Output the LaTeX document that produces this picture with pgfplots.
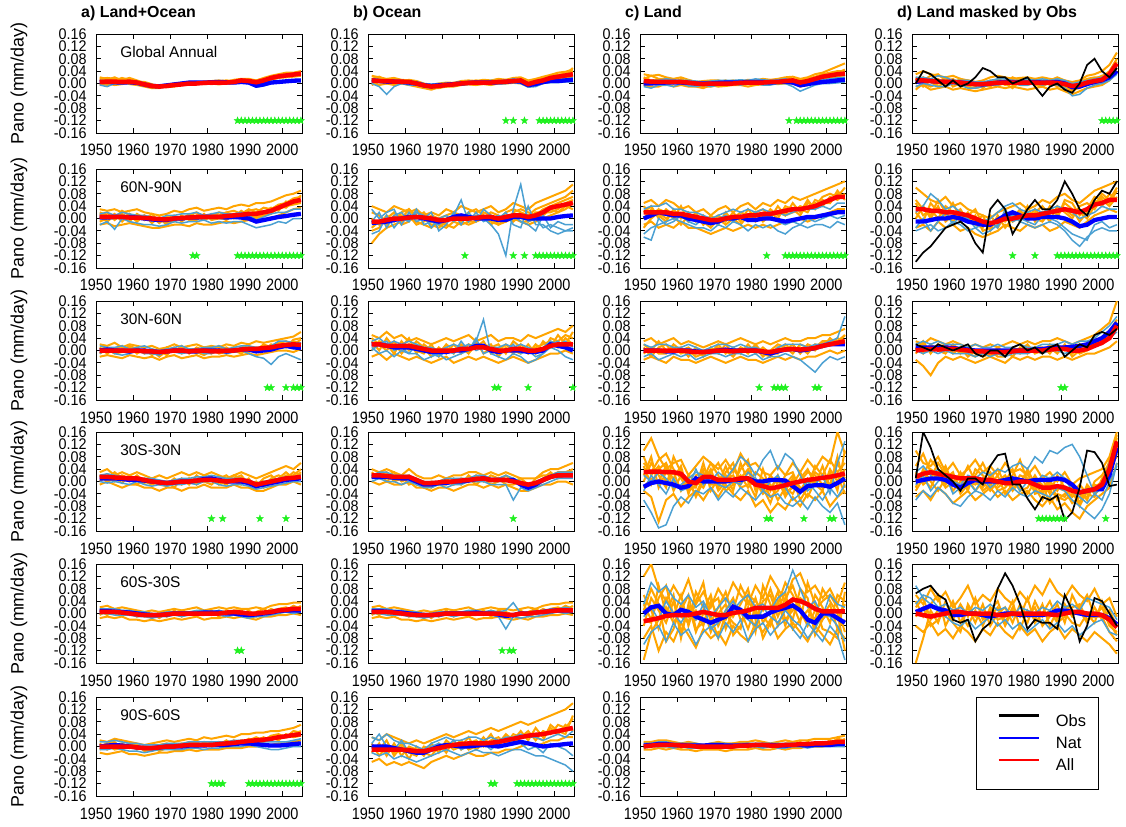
\documentclass[border=0pt]{standalone}
\usepackage{fontspec}
\setmainfont{Liberation Sans}
\usepackage{pgfplots}
\usepackage{pgfplotstable}
\pgfplotsset{compat=1.18}
\definecolor{oran}{RGB}{255,165,0}
\definecolor{lblue}{RGB}{75,160,210}
\definecolor{sgreen}{RGB}{30,240,30}
\pgfdeclareplotmark{fstar}{%
  \pgfpathmoveto{\pgfpointpolar{90}{\pgfplotmarksize}}%
  \pgfpathlineto{\pgfpointpolar{126}{0.42\pgfplotmarksize}}%
  \pgfpathlineto{\pgfpointpolar{162}{\pgfplotmarksize}}%
  \pgfpathlineto{\pgfpointpolar{198}{0.42\pgfplotmarksize}}%
  \pgfpathlineto{\pgfpointpolar{234}{\pgfplotmarksize}}%
  \pgfpathlineto{\pgfpointpolar{270}{0.42\pgfplotmarksize}}%
  \pgfpathlineto{\pgfpointpolar{306}{\pgfplotmarksize}}%
  \pgfpathlineto{\pgfpointpolar{342}{0.42\pgfplotmarksize}}%
  \pgfpathlineto{\pgfpointpolar{18}{\pgfplotmarksize}}%
  \pgfpathlineto{\pgfpointpolar{54}{0.42\pgfplotmarksize}}%
  \pgfpathclose\pgfusepathqfillstroke}
\pgfplotsset{
  pan/.style={
    scale only axis, width=206bp, height=99bp, anchor=north west,
    xmin=1950, xmax=2005.3, ymin=-0.16, ymax=0.16,
    xtick={1950,1960,1970,1980,1990,2000},
    ytick={-0.16,-0.12,-0.08,-0.04,0,0.04,0.08,0.12,0.16},
    xticklabel pos=lower, yticklabel pos=left,
    xtick pos=both, ytick pos=both,
    tick align=inside, major tick length=5bp,
    axis line style={line width=0.9bp},
    every tick/.style={black, line width=0.9bp},
    /pgf/number format/assume math mode=true,
    xticklabel style={font=\fontsize{16.5}{16.5}\selectfont, xscale=0.88, /pgf/number format/1000 sep={}, yshift=-8bp},
    yticklabel style={font=\fontsize{15.5}{15.5}\selectfont, xscale=0.93, /pgf/number format/fixed, /pgf/number format/fixed zerofill, /pgf/number format/precision=2, xshift=-6.5bp},
    title style={at={(axis description cs:0,1)}, anchor=base west, xshift=-15bp, yshift=11bp, font=\fontsize{16}{16}\selectfont\bfseries, inner sep=0pt},
    ylabel style={at={(axis description cs:-0.374,0.5)}, anchor=center, font=\fontsize{18}{18}\selectfont},
  },
  st/.style={only marks, mark=fstar, mark size=3.8bp, color=sgreen, mark options={line width=0.3bp}},
}
\tikzset{reg/.style={anchor=west, font=\fontsize{15.5}{15.5}\selectfont, inner sep=0pt}}
\newcommand\drawens[3]{%
  \pgfplotsinvokeforeach{#2}{\addplot[oran, line width=2bp] table[x=yr, y expr=\thisrow{##1}/100]{#1};}%
  \pgfplotsinvokeforeach{#3}{\addplot[lblue, line width=1.5bp] table[x=yr, y expr=\thisrow{##1}/100]{#1};}%
  \addplot[blue, line width=4.3bp] table[x=yr, y expr=\thisrow{B}/100]{#1};
  \addplot[red, line width=4.5bp] table[x=yr, y expr=\thisrow{R}/100]{#1};
}
\newcommand\obs[1]{\addplot[black, line width=1.7bp] table[x=yr, y expr=\thisrow{K}/100]{#1};}

% ---------- data (hundredths of mm/day), one row per series ----------
\pgfplotstableread{
s 1951 1953 1955 1957 1959 1961 1963 1965 1967 1969 1971 1973 1975 1977 1979 1981 1983 1985 1987 1989 1991 1993 1995 1997 1999 2001 2003 2005
R 0.5 0.6 0.6 0.5 0.6 0.3 -0.3 -0.8 -1 -0.8 -0.5 -0.3 0 0 0.2 0.3 0.3 0.3 0.5 1 0.8 0.4 1 1.8 2.3 2.6 2.9 3.2
B 0.5 0.5 0.4 0.3 0.4 0.2 -0.3 -0.8 -0.9 -0.6 -0.3 0 0.3 0.3 0.3 0.4 0.5 0.4 0.3 0.5 0.3 -0.7 -0.3 0.3 0.5 0.7 0.9 1
o1 1.5 1.8 1.5 1.2 1.8 1 0.2 -0.5 -0.5 -1 -0.8 0 0.5 0.3 0.5 0.8 1 0.5 1.2 1.5 1.5 1 1.8 2.5 3 3.5 3.5 4
o2 0 -0.5 0.2 0.5 -0.2 -0.5 -1 -1.5 -1.5 -0.5 0 -0.5 -0.3 0.2 0 -0.2 0 0.5 0.2 0.5 0.2 -0.3 0.5 1.2 1.8 2 2.2 2.5
o3 2 1.5 1 1.8 1.2 0.5 0.5 -0.2 -1.2 -1 -0.2 0.2 0.3 -0.3 0.5 0.5 0.8 1 0.8 1.2 1 1 1.5 2.2 2.8 2.5 3.2 3.8
o4 -0.5 0 -0.5 -0.2 0.3 0 -0.8 -1.2 -0.8 -1.2 -1 -0.5 -0.2 0 -0.2 0 -0.3 0 0.3 0.8 0.5 0 0.8 1.5 2 2.3 2.5 3
o5 1 1.2 2 1 0.8 0.8 0 -1 -1.3 -0.5 -0.3 0 0.5 0.5 0.3 0.5 0.5 0.2 0.8 1.2 0.8 0.5 1.2 2 2.5 3.2 3 3.5
b1 -0.5 -1 0 0 0.2 -0.3 -0.8 -1.2 -1 -0.8 -0.5 -0.2 0 0.3 0 0 0.2 0 0 0.2 0 -1.2 -0.8 0 0.2 0.5 0.5 0.8
b2 1 0.8 0.5 0.5 0.8 0.5 0 -0.5 -0.5 -0.3 0 0.3 0.5 0.6 0.5 0.8 0.8 0.8 0.6 0.8 0.6 -0.3 0 0.6 0.8 1 1.2 1.3
}\raw
\pgfplotstabletranspose[colnames from=s, input colnames to=yr]{\tAa}{\raw}
\pgfplotstableread{
s 1951 1953 1955 1957 1959 1961 1963 1965 1967 1969 1971 1973 1975 1977 1979 1981 1983 1985 1987 1989 1991 1993 1995 1997 1999 2001 2003 2005
R 1 0.8 0.8 0.6 0.6 0.5 0 -0.6 -1 -0.8 -0.5 -0.3 0 0.2 0.3 0.3 0.3 0.5 0.6 0.8 1 -0.2 0.5 1 1.8 2.2 2.6 3
B 1 0.8 0.6 0.6 0.5 0.3 0 -0.6 -0.8 -0.6 -0.4 -0.2 0 0.2 0.3 0.3 0.3 0.4 0.5 0.8 0.6 -0.5 -0.2 0.5 0.8 0.8 1 1.2
o1 2.5 2 1.5 1.8 1.2 1 0.5 -0.2 -0.5 0 0.3 0.2 0.8 1 0.8 1.2 1 1.5 1.2 1.8 2 1 1.5 2.2 2.8 3.5 3.8 4.5
o2 0 -0.5 0 -0.5 0 -0.5 -1 -1.5 -2 -1.2 -1 -1 -0.5 -0.3 -0.5 -0.2 -0.5 0 0 0.2 0 -1 -0.5 0 1 1.2 1.8 2
o3 1.5 2.2 1 1 0.5 1.2 0.8 0 -1.2 -0.5 0 -0.5 0.5 0.5 1 0.5 0.8 1 1.2 1 1.5 0.5 1.2 1.8 2.5 2.8 3.2 3.8
o4 -0.5 0.5 0.8 0 0 -0.2 -0.5 -1 -1.5 -1.5 -1 0 -0.3 0 0 0.5 0 0 0.5 0.5 0.8 -0.5 0 0.8 1.5 1.8 2.2 2.5
o5 1 1.5 0 1.2 1 0.8 0.2 -0.8 -0.8 -1 0 0.2 0.3 0.8 0.5 0 0.5 0.8 0.8 1.2 1.2 0.2 0.8 1.5 2 2.5 3 5
b1 0 -1 -3.5 -1 0 -0.5 -0.5 -1 -1.5 -1 -0.8 -0.5 -0.5 0 0 0 -0.3 0 0 0.3 0 -1.2 -1 0 0.3 0.3 0.5 0.5
b2 1.5 1.2 1 1 0.5 0.8 0.5 0 -0.2 0 0 0.2 0.5 0.5 0.8 0.5 1 0.8 1 1.5 1.2 0 0.5 1 1.2 1.2 1.5 1.8
}\raw
\pgfplotstabletranspose[colnames from=s, input colnames to=yr]{\tBa}{\raw}
\pgfplotstableread{
s 1951 1953 1955 1957 1959 1961 1963 1965 1967 1969 1971 1973 1975 1977 1979 1981 1983 1985 1987 1989 1991 1993 1995 1997 1999 2001 2003 2005
R 0.8 0.6 0.5 0.5 0.5 0.5 0.3 0 -0.2 0 0 0 0 0.2 0.3 0.3 0.3 0.5 0.5 0.8 1 0.3 0.8 1.5 2.2 2.6 3 3.2
B 0 0 0.2 0.3 0.3 0.3 0.2 0 0 0 0.2 0.3 0.3 0.3 0.5 0.5 0.5 0.3 0.5 0.6 0.3 -0.6 -0.2 0.2 0.5 0.7 1 1.2
o1 3 2.5 2.8 2 1.5 2 1.2 0.5 0.8 1 1 0.5 1 0.5 1.2 1 1.5 1.2 1.5 2 2.2 1.5 2 3 3.5 4.5 5.5 6.5
o2 -0.5 -1 -1 0 -1 -0.5 -1 -1 -1.5 -0.5 -1 -0.8 -0.5 -0.5 -1 -0.5 -0.3 0 -0.2 0 0 -1 -0.5 0.5 1 1.2 1.5 2
o3 1.5 2.5 1.5 1.5 1 0.5 1 0.3 -0.5 0.5 0.5 1 0 1 0.5 1 1 0.8 1 1.5 1.5 1 1.5 2.2 3 3.5 4 4
o4 0 0 -0.5 -0.5 0.5 0 -0.5 -0.8 -1 -1 -0.5 0 -0.5 0 -0.2 0 -0.2 0.2 0.5 0.2 0.5 -0.5 0.2 1 1.5 1.8 2.2 2.8
o5 2 1 1.2 1 0 1.5 0 -0.5 0 0 0.5 -0.5 0.5 0.8 0.5 0.2 0.8 0.5 0 1 1 0.2 1 2 2.5 3 3.5 4.5
b1 -1 -1.5 -0.5 -0.5 -1 0 -0.8 -1 -0.5 -1 -0.5 -0.5 0 -0.5 0 0 -0.5 -0.5 0 0 -1 -2.5 -1.5 -0.5 0 0 0.2 0.5
b2 1 1 1 1.5 1.2 1 1 0.8 0.5 0.8 1 1 1 1.2 1 1.5 1.2 1 1.2 1.5 1 0 0.5 1 1.2 1.5 1.8 2
}\raw
\pgfplotstabletranspose[colnames from=s, input colnames to=yr]{\tCa}{\raw}
\pgfplotstableread{
s 1951 1953 1955 1957 1959 1961 1963 1965 1967 1969 1971 1973 1975 1977 1979 1981 1983 1985 1987 1989 1991 1993 1995 1997 1999 2001 2003 2005
R 1 1 0.8 0.6 0.5 0.5 0.3 0 -0.2 -0.2 0 0.2 0.3 0.3 0.3 0.3 0.3 0.2 0.3 0.2 -0.2 -0.8 -0.5 0.3 0.8 1.2 3 6.5
B 0.5 0.8 0.8 0.6 0.5 0.5 0.3 0 -0.2 -0.3 0 0.3 0.5 0.5 0.3 0.3 0.5 0.3 0.3 0.5 0 -1.2 -1 -0.2 0.5 1 2 4
K 0 4 3 1 -1 1 -1 0 2 5 4 2 2 0 1 2 -1 -4 -1 0 -2 -3 0 6 8 4 2 5
o1 3 4 3 2.5 2 2.5 1.5 1 0.5 1 2 2.5 2 1.5 1.8 2 1.5 2 1.5 1.2 1 0.5 1 2.5 3 4 6 10
o2 -1 -0.5 -2 -1.5 -1 -2 -1.5 -2 -2.5 -2 -1.5 -1 -1.5 -1 -1.5 -2 -1.5 -1 -2 -1.5 -2.5 -3.5 -2.5 -1.5 -1 -0.5 1 4
o3 2 1 2.5 3 1 0 1.5 0.5 -1 0.5 0 1.5 0.5 2 1 0.5 1.5 0.5 1 2 1 -1 0.5 1.5 2 2 4 8
o4 0 2 0.5 -1 0.5 1.5 -0.5 -1 -1.5 -1 1 0 1 -0.5 0 1 -0.5 -1 0.5 -1 -1 -2 -1.5 0 0 0.5 2 6
o5 1.5 -1 1 1.5 -0.5 0.5 1 1 0.5 -0.5 -1 1 -0.5 0.5 -0.5 -0.5 0.5 1 -0.5 0.5 0.5 -1.5 0 1 1.5 2.5 3.5 7
o6 -2 0 -1 0 2 -1 0 -0.5 0 -1.5 0.5 -0.5 0 -1.5 1 0 0 -0.5 0 -0.5 -1.5 -2.5 -1 0 0.5 1 2.5 5
b1 -1 0 -0.5 -1 -1 0 -0.5 -1.5 -1.5 -1 -0.5 -0.5 0 0 -0.5 -0.5 0 -0.5 0 -0.5 -1.5 -4 -3.5 -1.5 -0.5 0 1 3
b2 2 2 1.5 2.5 2 1 1 1 0.5 0.5 1 1.5 1.5 1 1 1.5 1 1.5 1 1.5 1 0 0.5 1 1.5 2 3 5
}\raw
\pgfplotstabletranspose[colnames from=s, input colnames to=yr]{\tDa}{\raw}
\pgfplotstableread{
s 1951 1953 1955 1957 1959 1961 1963 1965 1967 1969 1971 1973 1975 1977 1979 1981 1983 1985 1987 1989 1991 1993 1995 1997 1999 2001 2003 2005
R 0.5 0.5 0.5 0.5 0.3 0.3 0.2 0 -0.2 -0.3 0 0.2 0.3 0.5 0.5 0.5 0.5 0.8 1 1.2 1.5 1.5 2 2.5 3.5 4.5 5.5 6
B 0.3 0.3 0.5 0.5 0.5 0.3 0 -0.3 -0.5 -0.5 0 0 0.3 0.3 0.5 0.5 0.5 0.3 0.5 0.3 0 -1 -0.5 0 0.5 0.8 1.2 1.5
o1 3 2.5 3 2 2.5 3 2 1.5 1 1.5 2.5 2 3 3.5 2.5 3 3.5 3 4 4.5 4 5 5 5.5 6.5 7.5 8 9
o2 -2 -1.5 -2.5 -2 -1.5 -2 -2.5 -3 -3 -2.5 -2 -2 -2.5 -1.5 -2 -2 -1.5 -1 -1.5 -1 -0.5 -1 -0.5 0 1 2 3 3.5
o3 1 2 -0.5 1.5 0 1 -0.5 1.5 -1 0 1 -1 1 2 0 1.5 1 2 2.5 1.5 3 2 3.5 3 4.5 5 6.5 7
o4 -1 0 1.5 -1 1.5 -0.5 1 -1.5 0.5 -1.5 -1 1 -0.5 -0.5 1.5 -0.5 0 0 0.5 2.5 1 0.5 1.5 2 3 4 4.5 5
o5 0.5 -1 1 0.5 -1 1.5 0 0.5 -1.5 0.5 0 -0.5 1.5 0.5 -0.5 0.5 2 1.5 0 1 2.5 3 2 3.5 2.5 5.5 5 7.5
o6 2 1 0 2.5 1 -1 1 -0.5 0 -2 -0.5 0.5 0 1 1 1 0.5 -0.5 1.5 0.5 1 0 1 1.5 4 3.5 5.5 6
b1 -2 -1 -3.5 0 -1 -1.5 -2 -2 -2.5 -2 -1 -1.5 -1 -1 -0.5 -1.5 -1 -1.5 -1 -1 -2 -3 -2.5 -2 -1 -1.5 0 0
b2 1.5 2 1 2 1.5 1 1 0.5 0 1 1 1.5 1.5 2 1 1.5 2 1.5 1.5 2 1 -0.5 0.5 1.5 2 2 3 3
}\raw
\pgfplotstabletranspose[colnames from=s, input colnames to=yr]{\tAb}{\raw}
\pgfplotstableread{
s 1951 1953 1955 1957 1959 1961 1963 1965 1967 1969 1971 1973 1975 1977 1979 1981 1983 1985 1987 1989 1991 1993 1995 1997 1999 2001 2003 2005
R -1 -1 -0.5 0 0 0.3 0.5 0.3 0 -0.5 -0.5 0 0 0 0.2 0.5 0.5 0 0.5 1 1 0.5 1 2 3.5 4 4.5 5
B -1.5 -1.2 -1 -0.5 0 0.5 0.5 0 -0.5 -1 -0.5 0.5 1 0.5 0 0 0 -0.5 -0.5 0.5 0.5 0 0 0 0 0.5 0.8 1
o1 -8 -5 -3 -2 -1 0 -1 -2 -3 -1 -2 -3 -1 -2 -1 0 -1 -2 -1 0 -1 -2 -1 0 1 2 3 5
o2 4 3 2 4 3 2 3 1 2 1 3 2 4 3 2 3 4 2 3 5 4 3 5 6 7 8 9 11
o3 0 -2 1 -1 2 3 1 0 -2 -3 -1 1 0 2 3 1 0 -1 2 3 2 1 3 4 5 6 7 9
o4 -3 -1 -2 1 -2 -1 2 1 -1 -2 -3 -1 -2 -1 -1 2 1 -2 0 1 -1 -1 0 1 3 2 4 3
o5 2 1 -1 0 1 1 -2 -1 1 0 1 2 1 -1 1 0 2 1 -1 2 3 2 1 3 4 5 6 7
o6 -4 -3 0 2 0 3 0 2 -1 -2 0 0 1 1 0 1 -2 0 1 -1 1 -1 2 2 2 3 5 6
b1 -5 -4 1 -3 0 -1 3 -2 -1 -2 0 1 6 -1 1 0 -2 -5 -12 3 11 -1 0 -3 -2 -3 -4 -3
b2 3 0 2 3 -2 2 -1 0 2 -4 -2 2 -2 2 -1 3 1 0 2 -2 -3 4 -2 -2 -4 -5 -4 -4
b3 -1 2 -3 1 2 -1 2 1 -3 0 1 -1 1 -1 2 -1 0 1 0 1 -1 -2 -4 1 -3 -1 -2 -2
}\raw
\pgfplotstabletranspose[colnames from=s, input colnames to=yr]{\tBb}{\raw}
\pgfplotstableread{
s 1951 1953 1955 1957 1959 1961 1963 1965 1967 1969 1971 1973 1975 1977 1979 1981 1983 1985 1987 1989 1991 1993 1995 1997 1999 2001 2003 2005
R 2 2 2 2 1.5 1.5 1 0.5 0 -0.5 -0.5 0 0.5 0.5 1 1 1.5 1.5 2 2.5 3 3 3.5 4 5 6 7 7
B 0 1 2 1.5 1 1 0 -0.5 -1 -1.5 -1 0 0 0.5 -0.5 -0.5 0 0 -0.5 -1 -0.5 0 0.5 0.5 1 1.5 2 2
o1 5 6 4 6 5 3 4 2 3 1 3 4 2 4 5 3 5 4 6 5 7 6 7 8 9 10 11 12
o2 -2 -1 -3 -2 -3 -1 -3 -3 -4 -5 -4 -3 -4 -3 -2 -3 -2 -3 -2 -1 -1 0 -1 0 1 2 3 3
o3 0 3 1 -1 3 0 2 -1 1 -2 1 -1 2 -1 3 0 0 3 1 3 2 4 3 5 4 7 6 8
o4 4 1 3 2 0 4 -1 2 -2 0 -2 2 -1 1 0 2 3 0 4 1 5 2 6 3 6 5 9 6
o5 2 4 0 3 1 -2 1 0 -1 -3 0 -2 0 2 1 -1 1 2 0 4 3 1 5 4 7 8 7 10
o6 -3 0 2 0 2 1 -1 1 -2 1 -1 1 0 -2 1 2 -1 1 2 1 2 3 2 6 5 5 8 7
b1 -5 -3 -2 -1 0 -1 -2 -3 -3 -4 -2 -3 -1 -2 -4 -2 -3 -2 -4 -5 -3 -2 -3 -2 -2 -3 -1 -2
b2 3 4 4 5 3 3 2 2 1 0 1 2 3 2 3 2 3 2 2 1 2 3 3 3 4 3 5 5
b3 -6 -7 0 -2 -1 1 -1 -2 0 -2 0 1 -1 1 -1 1 0 1 -1 -2 -1 -2 0 -1 0 1 0 1
}\raw
\pgfplotstabletranspose[colnames from=s, input colnames to=yr]{\tCb}{\raw}
\pgfplotstableread{
s 1951 1953 1955 1957 1959 1961 1963 1965 1967 1969 1971 1973 1975 1977 1979 1981 1983 1985 1987 1989 1991 1993 1995 1997 1999 2001 2003 2005
R 3 3 2.5 2.5 2 2 1.5 1 0 -1 -1.5 -1 0 0 0.5 1 1 1.5 2 2.5 3 2.5 2 3 4.5 5 6 6
B -1 -1 -0.5 0 0 0.5 0 -1 -1.5 -2 -2 -0.5 1 2 1 0 0 0.5 0.5 0.5 0 -1 -2.5 -2 -0.5 0 0.5 0.5
K -14 -11 -9 -6 -3 -2 -1 -3 -8 -11 3 6 3 -5 -1 3 6 3 3 6 12 8 3 1 6 9 8 12
o1 10 8 6 5 7 4 5 3 2 1 0 2 3 4 5 3 4 6 5 7 8 6 5 7 9 10 11 12
o2 -3 -2 -4 -1 -3 -2 -4 -3 -5 -6 -5 -4 -2 -3 -4 -2 -3 -2 -4 -3 -1 -2 -3 -1 1 2 3 2
o3 5 1 3 0 4 2 -1 2 -2 -3 1 -2 2 -1 2 0 3 0 4 1 5 3 -1 2 6 4 8 6
o4 0 4 0 4 -1 1 3 -1 1 -4 -3 0 -1 2 -1 4 -1 2 -1 4 2 0 4 5 3 7 5 9
o5 2 -1 5 2 1 5 0 0 -1 1 -4 1 -3 0 3 -1 2 4 1 0 6 5 1 3 7 6 4 7
o6 6 3 1 6 2 -1 2 1 3 -2 -1 -3 1 -1 1 2 0 -1 2 2 3 1 2 0 4 8 6 10
b1 -4 -3 -2 -4 -3 -1 -2 -4 -3 -5 -4 -2 0 1 -1 -2 -3 -2 -1 -2 -4 -7 -9 -6 -4 -3 -4 -4
b2 2 4 8 6 3 4 2 1 0 -1 0 2 4 5 3 2 3 2 3 4 3 2 0 1 2 4 3 3
b3 -3 0 -4 -1 2 -2 1 0 -3 -2 -1 -3 3 -1 0 -1 -2 1 0 -1 -3 -5 -6 -7 -2 -1 -3 -2
}\raw
\pgfplotstabletranspose[colnames from=s, input colnames to=yr]{\tDb}{\raw}
\pgfplotstableread{
s 1951 1953 1955 1957 1959 1961 1963 1965 1967 1969 1971 1973 1975 1977 1979 1981 1983 1985 1987 1989 1991 1993 1995 1997 1999 2001 2003 2005
R 0 0 0 0 0 0 -0.3 -0.3 -0.5 -0.3 0 0 -0.3 0 0 -0.3 -0.3 0 0 0.3 0.5 0.5 0.8 1 1.5 1.8 2 1.8
B 0 0.3 0 0 -0.3 0 0 -0.3 -0.5 -0.3 0 0 -0.3 -0.3 0 0 0 -0.3 0 0.3 0.3 -0.3 0 0.3 1 1.5 1 0.8
o1 2 1.5 2.5 1 2 1.5 1 1.5 0.5 1 2 1 1.5 2 1 1.5 1 2 1.5 2.5 2 3 2.5 3 3.5 4 4.5 6
o2 -2 -1.5 -2 -2.5 -1.5 -2 -2.5 -2 -3 -2 -1.5 -2.5 -2 -1.5 -2.5 -2 -2 -1.5 -2 -1.5 -1 -1.5 -1 -0.5 0 0 -0.5 0.5
o3 1 -1 0.5 1.5 -0.5 1 -1 0.5 -1 1 -0.5 1.5 -1 1 0 -1 0.5 1 -0.5 1 1.5 0 2 1 2.5 3 2 3.5
o4 -1 0.5 -1 -0.5 1 -1 0.5 -1.5 0 -1.5 1 -0.5 0.5 -1 1 0.5 -1 -0.5 1 0 -0.5 1 0 2 1 2 3 2
o5 0.5 1 -0.5 0 1.5 0.5 -0.5 0 -2 0 0.5 -1 0 -0.5 -1.5 0 1.5 0.5 0 -1 1 0.5 1.5 0 3 1 3.5 4
b1 -1 0.5 -1 -1.5 -1 0 -1 -1 -1.5 0 -0.5 -1 -0.5 0 -1 -1 0 -1 -0.5 0 -1 -2 -2.5 -4.5 -2 -1 -2 -3
b2 1.5 1 1 1.5 0.5 1 1.5 0.5 0 0.5 1 1.5 0.5 0.5 1 1 1.5 0.5 1 1.5 1.5 1 1 1.5 3 3 2.5 2.5
}\raw
\pgfplotstabletranspose[colnames from=s, input colnames to=yr]{\tAc}{\raw}
\pgfplotstableread{
s 1951 1953 1955 1957 1959 1961 1963 1965 1967 1969 1971 1973 1975 1977 1979 1981 1983 1985 1987 1989 1991 1993 1995 1997 1999 2001 2003 2005
R 2 2 1.5 1.5 1.5 1.5 1 0.5 0 0 0 0 0.5 0.5 1 1 0.5 0 0 0.5 0.5 0 0 0.5 1.5 2 2 2
B 2 2 1.5 1 1 1 0.5 0 -0.5 -0.5 -0.5 0 0 0.5 1.5 1.5 0 -0.5 0 0 0 -0.5 -0.5 0 2 1.5 1 0
o1 5 4 6 4 5 3 4 3 2 3 4 3 4 5 3 4 5 3 4 4 3 5 4 5 6 7 6 8
o2 -2 -1 -3 -1 -2 -3 -2 -3 -4 -3 -2 -4 -3 -2 -3 -2 -3 -4 -3 -2 -3 -4 -3 -2 -1 -1 0 -1
o3 4 2 0 3 -1 2 0 -1 2 -2 1 -1 2 0 3 -1 1 2 -1 3 1 -1 2 0 4 3 5 4
o4 0 3 2 -1 3 0 3 1 -2 1 -1 2 -1 2 1 3 -1 0 2 0 -1 2 -1 3 1 5 2 6
o5 3 0 4 1 1 4 -1 2 0 -1 2 0 1 -1 2 1 2 -2 1 -1 2 0 1 2 3 1 4 2
b1 1 -1 0 -2 0 -1 -1 -3 -2 -1 -3 -2 -1 0 3 10 -1 -2 -3 -1 -2 -4 -3 -1 1 0 -2 -3
b2 3 4 2 3 2 3 2 1 1 0 1 2 1 2 0 1 1 1 2 1 2 1 0 1 3 2 3 1
b3 0 2 3 0 1 -1 2 0 -1 -2 0 -1 3 0 4 -1 0 -1 0 2 -1 0 -2 -1 2 3 1 0
}\raw
\pgfplotstabletranspose[colnames from=s, input colnames to=yr]{\tBc}{\raw}
\pgfplotstableread{
s 1951 1953 1955 1957 1959 1961 1963 1965 1967 1969 1971 1973 1975 1977 1979 1981 1983 1985 1987 1989 1991 1993 1995 1997 1999 2001 2003 2005
R 0 0 0 0 0 0 -0.3 -0.5 -0.5 -0.3 0 0 -0.3 0 0 0 -0.3 -0.5 0 0.3 0.5 0.3 0.5 0.8 1.5 2 2.5 3
B 0 0 0 -0.3 -0.3 0 0 -0.3 -0.5 -0.3 0 0.3 0 0 0 0 -0.5 -1 -0.3 0.3 0.5 0 0.3 0.8 1.5 2 2 2
o1 3 4 2 3 4 2 3 2 1 2 3 2 3 4 3 2 3 2 3 4 3 3 4 4 5 5 6 7
o2 -3 -2 -3 -4 -2 -3 -3 -4 -3 -2 -3 -4 -3 -2 -3 -3 -4 -3 -2 -3 -2 -3 -2 -2 -1 0 -1 0
o3 1 -2 1 2 -1 1 -2 1 -2 1 -1 2 -1 1 -1 2 -1 -2 1 0 2 -1 2 1 3 2 4 3
o4 -1 1 -1 -1 2 0 1 -1 0 -1 2 -1 1 -1 2 -1 1 -1 -1 2 0 1 -1 2 1 4 2 5
o5 2 0 3 0 1 -1 0 -2 -1 0 1 0 -2 1 0 1 -2 0 2 1 -1 2 1 0 3 3 3 5
b1 -2 -1 -3 -2 -1 -2 -1 -3 -2 -1 -1 -2 -1 -1 -2 -1 -3 -2 -2 -1 -2 -3 -5 -7 -4 -2 -3 -2
b2 2 1 2 2 1 1 2 1 0 1 2 2 1 2 1 1 0 -1 1 2 2 2 1 2 2 3 4 11
}\raw
\pgfplotstabletranspose[colnames from=s, input colnames to=yr]{\tCc}{\raw}
\pgfplotstableread{
s 1951 1953 1955 1957 1959 1961 1963 1965 1967 1969 1971 1973 1975 1977 1979 1981 1983 1985 1987 1989 1991 1993 1995 1997 1999 2001 2003 2005
R 0 0.3 0.5 0.3 0.5 0.5 0.3 0 -0.3 -0.3 -0.5 -0.5 -0.5 -0.3 0 0 0 0 0.3 0.5 0.5 0 0 0.5 1.5 2.5 4 8
B 1 1 1 1 1 0.8 0.5 0.3 0 0 0 0 0 0 0 0 0.3 0.5 0.8 1 1 1.2 1.5 2 3 4 6 9
K 2 1 0 2 1 0 1 2 -1 -2 0 0 -2 1 2 0 1 -1 1 2 -2 0 2 1 5 6 5 7
o1 3 2 4 3 2 3 2 1 2 1 2 1 2 3 2 3 2 3 3 4 3 2 3 4 5 7 9 16
o2 -3 -5 -8 -4 -2 -3 -2 -3 -4 -3 -2 -3 -4 -2 -3 -2 -3 -2 -2 -3 -2 -3 -2 -1 -1 0 1 3
o3 1 -1 2 0 -1 2 0 -1 -2 0 -2 1 -1 0 -1 1 0 -1 2 0 1 -1 1 2 4 3 6 10
o4 -1 2 0 1 2 -1 1 -2 0 -2 -1 -1 0 -2 1 -1 1 1 -1 2 0 1 -1 0 2 4 5 7
o5 0 3 -1 2 0 1 -1 1 -1 -1 0 -2 -2 1 0 2 -1 0 1 -1 2 -2 0 1 3 2 4 9
b1 0 -1 0 -1 0 -1 -1 -1 -2 -1 -2 -1 -2 -1 -1 -1 0 -1 0 0 -1 0 0 1 2 2 4 6
b2 2 3 2 3 2 2 2 1 2 1 1 2 1 1 2 1 1 2 2 2 3 2 3 3 4 6 8 11
}\raw
\pgfplotstabletranspose[colnames from=s, input colnames to=yr]{\tDc}{\raw}
\pgfplotstableread{
s 1951 1953 1955 1957 1959 1961 1963 1965 1967 1969 1971 1973 1975 1977 1979 1981 1983 1985 1987 1989 1991 1993 1995 1997 1999 2001 2003 2005
R 1.5 1.5 1.3 1.2 1 1 0.5 0 -0.3 -0.5 -0.3 0 0 0.3 0.5 0.5 0.3 0 0.3 0.5 0 -1 -0.5 0 0.5 1 1.2 1.5
B 1 1 1 0.8 0.5 0.5 0.3 0 -0.3 -0.5 -0.3 0 0 0.3 0.8 1 0.5 0 0 0 -0.5 -1.5 -1 -0.5 0 0.5 0.8 1
o1 3 4 2 3 2 3 2 1 2 1 2 3 2 3 2 3 2 1 2 3 2 1 2 3 4 5 4 6
o2 -1 0 -1 -2 -1 -1 -2 -2 -3 -2 -2 -3 -2 -2 -1 -2 -2 -2 -1 -2 -2 -3 -3 -2 -1 -1 0 -1
o3 2 1 3 1 0 2 0 -1 0 -1 1 -1 1 0 2 1 0 -1 1 2 -1 0 -2 1 2 1 3 2
o4 0 2 0 2 1 -1 1 0 -1 0 -2 1 -1 2 0 -1 1 2 0 -1 1 -2 0 -1 1 3 1 3
o5 2 0 1 -0.5 2 0.5 -0.5 1 -1 -1.5 0 0 1 -1 1 1.5 -1 0 2 1 -1 -1.5 1 2 0 2 2 4
b1 0 -0.5 0 -0.5 -1 0 -1 -1.5 -1 -1.5 -1 -1 -0.5 -1 0 0 -1 -1.5 -1 -1 -1.5 -2.5 -2 -1.5 -1 -0.5 0 0
b2 2 2.5 2 1.5 1.5 1 1 1 0.5 0 0.5 1 1 1.5 1.5 2 1.5 1 1 1 0.5 -0.5 0 0.5 1 1.5 1.5 2
}\raw
\pgfplotstabletranspose[colnames from=s, input colnames to=yr]{\tAd}{\raw}
\pgfplotstableread{
s 1951 1953 1955 1957 1959 1961 1963 1965 1967 1969 1971 1973 1975 1977 1979 1981 1983 1985 1987 1989 1991 1993 1995 1997 1999 2001 2003 2005
R 2 2 1.8 1.5 1.5 1.5 0.5 -0.5 -0.5 -0.3 0 0 0.3 0.5 0.8 1 0.5 0.5 0.5 0 -0.5 -1 -0.5 0.5 1.5 2 2 2
B 1.5 1.5 1.5 1.2 1 1 0 -1 -1 -0.5 -0.5 0 0 0.3 0.8 1 0.5 0.5 0.5 0.5 -1 -2 -1 0.5 1.5 2 2 2
o1 4 3 4 3 2 4 2 1 1 2 1 2 2 3 3 2 3 2 3 2 1 1 1 3 4 4 5 6
o2 0 -1 0 -1 -1 0 -2 -2 -3 -2 -2 -3 -2 -1 -1 -2 -1 -2 -1 -2 -3 -3 -2 -1 -1 0 0 -1
o3 3 1 2 3 0 1 1 -1 -2 0 1 -1 1 0 2 0 2 1 0 1 -1 -2 1 2 2 3 3 4
o4 1 3 0 2 2 -1 0 -2 0 -1 -1 1 -1 2 0 2 0 1 -1 -1 0 -2 -1 1 3 1 2 2
o5 2 2 3 0 1 2 -1 0 -1 -1 0 -1 0 1 -1 1 -1 0 2 0 1 -1 0 0 1 2 3 3
b1 0 1 0 0 -1 0 -1 -2 -2 -1 -2 -1 -1 0 0 0 -1 -1 -1 -6 -2 -3 -2 -1 0 1 1 1
b2 2 3 3 2 2 2 1 0 0 0 1 1 1 1 2 2 1 1 2 1 0 -1 0 1 2 3 3 3
}\raw
\pgfplotstabletranspose[colnames from=s, input colnames to=yr]{\tBd}{\raw}
\pgfplotstableread{
s 1951 1953 1955 1957 1959 1961 1963 1965 1967 1969 1971 1973 1975 1977 1979 1981 1983 1985 1987 1989 1991 1993 1995 1997 1999 2001 2003 2005
R 3 3.2 3.2 3 3 2.5 0 -0.5 1.5 1.5 0.5 0.5 0.5 1 1 -1 -1.5 -2.2 -1.8 -1.2 -0.5 0 0.5 0.8 1.2 1.5 2 2.6
B -1.7 -0.5 0 -0.5 -1 -2 -1.5 1 0 0 0 0 0.5 0.5 1 0 0 0.5 0.5 0.3 -1.5 -3.3 -1.5 -1.2 -1.2 -1.7 -0.5 1
o1 10 14 8 4 6 7 2 5 8 6 4 7 3 9 5 6 3 2 5 2 6 3 7 4 8 6 16 9
o2 -3 -5 -13 -6 -4 -8 -5 -3 -6 -2 -5 -1 -4 -6 -3 -8 -6 -10 -7 -9 -5 -8 -4 -6 -3 -8 -5 -3
o3 6 3 7 9 4 1 -3 -1 4 2 -2 3 6 -1 3 0 -4 -2 1 -5 -1 3 -2 5 2 7 3 6
o4 0 6 2 -2 8 3 -1 -4 1 6 2 -3 -1 4 7 -3 0 -5 -3 2 3 -3 1 -1 5 -2 6 1
o5 5 -1 4 6 0 -2 2 0 -2 3 6 1 2 -2 -1 3 1 -1 -6 -2 -4 1 4 -1 -3 4 0 4
o6 2 8 -2 3 1 5 -4 2 3 -1 -1 5 -1 2 -2 1 -3 2 -1 -3 1 -6 -2 3 1 -1 8 -2
o7 8 2 5 0 3 -3 1 -5 0 4 -3 0 4 1 4 -2 -2 -7 0 -1 2 -2 -5 0 -2 3 -3 10
o8 -2 1 0 5 -3 2 -2 -2 6 -3 1 2 -3 6 0 -5 4 -3 2 -4 -2 0 3 2 -1 1 2 -4
b1 -6 -10 -15 -14 -8 -5 -7 -3 -4 -2 -6 -3 -5 -2 -4 -6 -3 -5 -4 -7 -8 -6 -9 -5 -8 -10 -7 -14
b2 2 0 3 1 -2 -1 1 3 2 0 3 1 4 8 6 2 7 10 4 9 7 2 -3 -1 2 -4 6 13
b3 -3 2 -1 -4 1 -3 -2 4 -1 2 -1 -2 0 -1 3 1 -3 0 2 -2 -6 -4 0 -3 -6 -2 -5 -1
}\raw
\pgfplotstabletranspose[colnames from=s, input colnames to=yr]{\tCd}{\raw}
\pgfplotstableread{
s 1951 1953 1955 1957 1959 1961 1963 1965 1967 1969 1971 1973 1975 1977 1979 1981 1983 1985 1987 1989 1991 1993 1995 1997 1999 2001 2003 2005
R 1.5 2.5 3 2.5 2 1.5 1 1 1 0.5 0.5 0 -0.5 -0.5 0 0 -1 -2 -2 -1.5 -2 -3 -3.5 -3 -2.5 -1 4 13
B 0 0.5 1 1 0.5 -1 -2 -0.5 0.5 0 0 0 0.5 1 0.5 0 0.5 0.5 0.5 1 0.5 -1 -3.5 -3 -2.5 -2.5 2 11
K 1 16 11 4 2 0 -3 1 1 -1 5 8.5 9 -1 -1 -5.5 -9 -5 -6 -4.5 -12.5 -10 -2 10 9.5 6 -1.5 -1
o1 10 6 5 8 3 6 2 4 7 3 5 2 6 3 4 2 5 1 3 0 3 -1 1 2 3 4 8 16
o2 -5 -3 -6 -2 -4 -7 -5 -3 -6 -4 -2 -5 -3 -6 -4 -3 -6 -8 -5 -9 -7 -10 -12 -8 -6 -4 -2 6
o3 5 9 3 1 5 -1 3 -2 2 6 1 4 -1 2 7 0 -3 1 -4 2 -2 -5 -3 -6 0 2 6 14
o4 0 2 7 4 -1 2 -2 1 -3 0 -3 0 2 -2 -1 4 -1 -4 0 -3 1 -2 -7 -1 -4 -2 3 10
o5 3 -1 1 6 2 -3 0 5 0 -2 2 -3 -2 1 -3 -2 2 -2 -3 -5 -6 -4 -1 -4 -5 1 4 12
o6 -2 4 0 -3 1 3 -4 -1 1 -3 -1 2 -4 -1 2 1 -2 -6 -1 -2 -3 -7 -5 -2 -3 -1 5 8
o7 2 0 4 2 -2 0 1 -3 4 2 -1 -2 0 4 -2 -4 0 -1 -7 -4 -5 -1 -4 -5 -1 -2 7 15
o8 -3 1 -2 3 4 0 2 0 -1 1 3 -1 1 -3 0 3 -4 -3 1 -6 -4 -3 -8 -3 -2 0 2 9
b1 -6 -3 -5 -2 -4 -7 -8 -5 -3 -4 -6 -3 -5 -2 -4 -5 -3 -4 -5 -2 -3 -6 -8 -10 -12 -9 -4 6
b2 3 5 2 4 1 0 -1 2 1 3 2 4 3 5 6 4 8 6 10 9 11 12 8 2 -4 -2 6 10
b3 -1 2 -3 0 2 -4 -2 0 -3 1 -2 0 -1 1 -3 0 -1 2 1 3 1 -3 -5 -7 -4 -6 0 5
}\raw
\pgfplotstabletranspose[colnames from=s, input colnames to=yr]{\tDd}{\raw}
\pgfplotstableread{
s 1951 1953 1955 1957 1959 1961 1963 1965 1967 1969 1971 1973 1975 1977 1979 1981 1983 1985 1987 1989 1991 1993 1995 1997 1999 2001 2003 2005
R 0.5 0.5 0.5 0.3 0 -0.3 -0.5 -0.5 -0.5 -0.3 0 0 0 0 0 0 0 0.3 0.5 0.3 0 0 0.3 0.5 1 1.2 1.5 1.5
B 0.8 0.8 0.6 0.5 0.3 0 -0.3 -0.5 -0.5 -0.3 0 0 0 0 0.3 0.3 0.3 0 0 -0.3 -0.5 -0.3 0 0.3 0.8 1 1 1
o1 2 2.5 1.5 2 1.5 1 0.5 1 0.5 1 1.5 1 1.5 2 1 1.5 2 1.5 2 1.5 1.5 2 1.5 2.5 3 3 3.5 3.5
o2 -1.5 -1 -1.5 -1 -2 -2 -2.5 -2 -2.5 -2 -1.5 -2 -1.5 -1 -2 -1.5 -1.5 -1 -1.5 -1 -1.5 -2 -1 -1 -0.5 -0.5 0 -0.5
o3 1 -0.5 1 0.5 -0.5 0.5 -1 0 -1.5 0.5 -0.5 1 -0.5 0.5 0.5 -0.5 1 0 1 1 -0.5 0.5 1.5 0 1.5 2 1 2.5
o4 -0.5 1 0 -0.5 1 -1 0 -1.5 0.5 -1 1 -1 0.5 -0.5 -0.5 1 -1 1 0 -0.5 1 -1 0 1.5 0.5 1 2.5 1.5
b1 0 0 -0.5 -0.5 -0.5 -1 -1 -1.5 -1 -1 -0.5 -1 -0.5 -0.5 0 -0.5 -0.5 -1 -0.5 -1 -1.5 -1 -1 -0.5 0 0.5 0 0.5
b2 1.5 1.5 1.5 1 1 0.5 0.5 0 0 0.5 0.5 0.5 0.5 1 1 0.5 1 0.5 0.5 0.5 0 0 0.5 1 1.5 1.5 2 1.5
}\raw
\pgfplotstabletranspose[colnames from=s, input colnames to=yr]{\tAe}{\raw}
\pgfplotstableread{
s 1951 1953 1955 1957 1959 1961 1963 1965 1967 1969 1971 1973 1975 1977 1979 1981 1983 1985 1987 1989 1991 1993 1995 1997 1999 2001 2003 2005
R 0.5 0.5 0.5 0.3 0 -0.3 -0.5 -0.5 -0.5 -0.3 0 0 0 0 0 0 0 0 -0.3 -0.5 0 0 0.3 0.5 0.8 1 1 1
B 0.8 0.8 0.6 0.5 0.3 0 -0.3 -0.5 -0.5 -0.3 0 0 0 0 0.3 0 0 -0.3 -0.8 -0.5 0 0 0.3 0.5 0.8 1 1 1
o1 2 2.5 1.5 2 1.5 1 0.5 1 0.5 1 1.5 1 1.5 2 1 1.5 2 1.5 1.5 1 1.5 2 1.5 2.5 3 3 3.5 3.5
o2 -1.5 -1 -1.5 -1 -2 -2 -2.5 -2 -2.5 -2 -1.5 -2 -1.5 -1 -2 -1.5 -1.5 -1 -1.5 -2 -1.5 -2 -1 -1 -0.5 -0.5 0 -0.5
o3 1 -0.5 1 0.5 -0.5 0.5 -1 0 -1.5 0.5 -0.5 1 -0.5 0.5 0.5 -0.5 1 0 0.5 -0.5 -0.5 0.5 1.5 0 1.5 2 1 2.5
o4 -0.5 1 0 -0.5 1 -1 0 -1.5 0.5 -1 1 -1 0.5 -0.5 -0.5 1 -1 1 0 -1 1 -1 0 1.5 0.5 1 2.5 1.5
b1 0 0 -0.5 -0.5 -0.5 -1 -1 -1.5 -1 -1 -0.5 -1 -0.5 -0.5 0 -0.5 -0.5 -1 -5 -1 -1.5 -1 -1 -0.5 0 0.5 0 0.5
b2 1.5 1.5 1.5 1 1 0.5 0.5 0 0 0.5 0.5 0.5 0.5 1 1 0.5 1 0.5 1 3.5 0 0 0.5 1 1.5 1.5 2 1.5
}\raw
\pgfplotstabletranspose[colnames from=s, input colnames to=yr]{\tBe}{\raw}
\pgfplotstableread{
s 1951 1953 1955 1957 1959 1961 1963 1965 1967 1969 1971 1973 1975 1977 1979 1981 1983 1985 1987 1989 1991 1993 1995 1997 1999 2001 2003 2005
R -2.5 -2 -1.5 -0.8 -0.5 -0.5 -0.5 0 0.5 0 -0.5 -0.5 0.2 0.5 1 1.8 1.8 1.8 1.8 2.8 4.5 4 3 1.5 0.7 0.7 0.7 0.7
B 0 2 2.5 0 -0.5 1.2 0.5 -1 -2 -3 -2 -1 2.2 1.2 -1.2 -1 -1 0.3 1.2 1.8 2.6 1 -2 -3 0 0 -1.5 -3
o1 12 16 8 4 9 5 11 3 7 2 8 4 10 6 3 9 5 12 8 4 11 13 7 9 5 8 3 10
o2 -8 -4 -12 -6 -9 -3 -7 -11 -5 -8 -6 -10 -4 -7 -9 -3 -6 -2 -8 -5 -3 -6 -9 -4 -7 -10 -5 -8
o3 3 -2 5 9 -1 6 -4 4 10 -3 2 7 -1 3 8 -2 4 6 -1 5 9 2 -2 6 2 -3 6 4
o4 -4 5 1 -3 4 -6 2 -2 1 6 -4 1 5 -2 -1 5 -3 1 7 -2 1 5 3 -4 -1 3 -5 -2
o5 6 1 -5 2 -3 1 6 -5 -3 3 5 -5 1 9 4 0 -1 -4 3 10 6 1 -4 1 4 6 2 -6
o6 -15 -6 -2 5 0 -1 -3 7 2 -6 0 3 -7 -4 2 -6 9 3 -4 2 -2 8 5 -7 -2 1 -2 3
o7 1 8 3 -9 -5 3 -1 1 -4 4 -1 -2 3 1 -5 2 -8 -3 4 -4 3 -3 10 3 -5 -6 -8 7
o8 -2 -3 9 0 6 -8 3 -6 0 -1 -8 0 -3 -5 6 4 1 8 1 7 -5 -2 1 -2 8 4 0 -12
b1 -10 -6 -4 -9 -3 -7 -5 -10 -6 -4 -8 -3 -6 -2 -9 -5 -3 -7 -4 -2 -5 -8 -3 -6 -9 -4 -7 -15
b2 3 10 7 9 5 3 6 2 4 -1 2 5 1 4 6 2 3 1 5 7 14 8 2 4 -1 6 3 2
b3 -1 2 -2 4 0 -3 1 -2 3 -5 -3 1 4 0 -2 -4 2 -1 -3 1 -2 -4 -8 -5 0 -1 -4 -9
}\raw
\pgfplotstabletranspose[colnames from=s, input colnames to=yr]{\tCe}{\raw}
\pgfplotstableread{
s 1951 1953 1955 1957 1959 1961 1963 1965 1967 1969 1971 1973 1975 1977 1979 1981 1983 1985 1987 1989 1991 1993 1995 1997 1999 2001 2003 2005
R 0 -0.5 -1 -0.5 0 0.5 0.5 0 0 0 0 -0.5 -0.5 0 0 0 0 0 -0.3 -0.5 0 0.5 0.5 0 0 -0.5 -2 -4.5
B 0.5 1.5 2.5 1.5 1 -0.5 -0.5 0 0 -0.5 -1 -0.5 0 0 -0.5 -0.5 -0.5 -0.5 0 1 1 0.5 0 -0.5 -0.5 -0.5 -1.5 -3.5
K 6.5 8 9 6 4.5 -2 -3 -2 -9 -5 -3 8 13 9 3 -5 -2 -3 -3 -5 6 1 -9 -4 5 4 0 -4
o1 6 3 8 4 7 2 5 9 3 6 4 8 5 3 7 4 9 6 11 7 5 9 6 4 8 3 5 -1
o2 -4 -6 -3 -7 -5 -8 -4 -6 -9 -5 -7 -3 -6 -8 -4 -7 -5 -9 -6 -4 -8 -5 -7 -9 -6 -8 -10 -13
o3 -16 -8 1 -3 4 -2 3 -1 5 -2 1 4 -3 2 -1 5 -3 0 4 -2 3 -1 2 6 -1 2 -4 -6
o4 2 5 -2 1 -1 4 -3 2 -3 3 -4 0 2 -3 3 -1 2 -4 -1 3 -3 6 1 -3 2 -2 1 -4
o5 4 -1 3 6 -4 1 0 -4 1 -4 2 -2 -1 4 -5 1 -2 3 -4 1 0 -3 -4 0 -3 4 -3 -7
o6 -1 2 -4 -2 1 -3 -6 3 -1 0 -1 2 -4 1 0 -3 4 -1 1 -3 -1 2 3 -2 -1 -1 -6 -9
b1 9 5 3 1 -1 -3 -4 -2 -5 -3 -1 -4 -2 -5 -3 -6 -4 -2 -5 -3 -6 -4 -7 -5 -3 -2 -6 -7
b2 3 6 5 2 3 1 2 0 2 1 3 1 2 -1 2 1 0 2 1 4 2 3 1 5 4 3 2 -2
}\raw
\pgfplotstabletranspose[colnames from=s, input colnames to=yr]{\tDe}{\raw}
\pgfplotstableread{
s 1951 1953 1955 1957 1959 1961 1963 1965 1967 1969 1971 1973 1975 1977 1979 1981 1983 1985 1987 1989 1991 1993 1995 1997 1999 2001 2003 2005
R 0 0 0 0 0 -0.3 -0.5 -0.5 -0.3 0 0 0.3 0.5 0.5 0.5 0.5 0.8 1 1.2 1.5 1.8 2 2.2 2.5 3 3.3 3.7 4
B 0 0.3 0.5 0.3 0 -0.3 -0.5 -0.5 -0.3 0 0 0 0.3 0.3 0.3 0.5 0.5 0.5 0.8 1 1 0.8 0.5 0.3 0.3 0.5 0.8 1
o1 2 1.5 2.5 2 1.5 1 0.5 1 1.5 2 1.5 2 2.5 2 3 2.5 3 3.5 3 4 4 4.5 4.5 5 5 5.5 6 7
o2 -2 -2.5 -2 -1.5 -2.5 -2.5 -3 -2.5 -2 -2 -1.5 -1.5 -1 -1.5 -1 -1 -1 -0.5 -0.5 -0.5 0 0 0.5 0.5 1 1 1.5 2
o3 1 -1 0.5 1 -0.5 0 -1 -1.5 0.5 1 -0.5 1 0 1.5 0 1 1.5 0.5 2 1 2.5 2 3 2 3.5 3 4 5
o4 -1 0.5 -1 -0.5 1 -1 0 0 -1.5 -0.5 1 -0.5 1 -0.5 1.5 0 0.5 2 0.5 2 1 1.5 1.5 3 2 4 3 3.5
o5 0 1 1.5 -1 0.5 0.5 -1.5 -1 0 0.5 0.5 0.5 1.5 1 0.5 1.5 1 1.5 1.5 1 2 3 2 3.5 4 3 5 4.5
b1 -1 -1 -0.5 -1 -1.5 -1.5 -2 -1.5 -1 -1 -1 -1 -0.5 -0.5 -1 -0.5 -0.5 0 0 0 0.5 0 -0.5 -1 -1 -0.5 0 0
b2 1.5 1.5 2 1.5 1 1 0.5 0.5 0.5 1 1 1 1.5 1.5 1.5 1.5 1.5 1.5 2 2 2 2 1.5 1.5 1.5 1.5 2 2.5
}\raw
\pgfplotstabletranspose[colnames from=s, input colnames to=yr]{\tAf}{\raw}
\pgfplotstableread{
s 1951 1953 1955 1957 1959 1961 1963 1965 1967 1969 1971 1973 1975 1977 1979 1981 1983 1985 1987 1989 1991 1993 1995 1997 1999 2001 2003 2005
R -1 -1 -1 -1 -1 -1.2 -1.5 -1.5 -1 -0.5 0 0.5 0.8 1 1 1 1.2 1.5 2 2.5 3 3.5 3.8 4 4.5 5 5.5 6
B 0 0 0 -0.5 -1 -1.5 -2 -2 -1 0 0.5 0.3 0 0 0.3 0.5 0.3 0 0.5 1 1.5 1 0.5 0 0.3 0.5 0.8 1
o1 3 2 4 3 2 1 2 1 2 3 4 3 4 5 4 5 6 5 6 7 8 7 8 9 10 11 12 14
o2 -5 -4 -6 -5 -6 -5 -6 -7 -5 -4 -3 -4 -3 -2 -3 -3 -2 -2 -1 -1 0 1 0 1 2 2 3 3
o3 1 -3 0 -2 1 -2 -3 0 -1 1 -2 2 -1 1 2 0 2 3 1 4 3 5 2 5 4 7 6 9
o4 -2 1 -3 1 -3 0 -1 -3 1 -2 2 0 2 -1 0 3 0 1 4 2 5 2 6 3 6 4 7 5
o5 0 -1 2 -3 0 -4 0 -2 -3 0 1 -1 0 3 -1 1 4 0 3 1 3 4 3 2 7 5 4 10
b1 -2 -3 -2 -4 -3 -4 -5 -4 -3 -2 -1 -2 -3 -2 -1 -2 -2 -3 -2 -1 -1 -2 -3 -3 -4 -5 -6 -8
b2 3 2 4 2 1 1 0 -1 1 2 3 2 2 3 3 2 3 2 3 3 4 3 3 2 3 4 3 5
b3 1 4 0 -1 2 -2 -1 -2 0 1 0 2 -1 0 1 1 -1 1 0 2 1 -1 0 -2 1 0 -1 -3
}\raw
\pgfplotstabletranspose[colnames from=s, input colnames to=yr]{\tBf}{\raw}
\pgfplotstableread{
s 1951 1953 1955 1957 1959 1961 1963 1965 1967 1969 1971 1973 1975 1977 1979 1981 1983 1985 1987 1989 1991 1993 1995 1997 1999 2001 2003 2005
R 0 0.3 0.5 0.5 0.5 0.3 0.3 0 0 0 0 0 0 0.3 0.3 0.5 0.5 0.3 0.3 0.5 0.5 0.8 0.8 1 1 1.2 1.5 1.5
B 0.3 0.5 0.8 0.8 0.5 0.5 0.3 0.3 0.3 0.5 0.5 0.3 0.3 0.3 0.5 0.5 0.5 0.5 0.3 0.3 0.5 0.5 0.3 0.5 0.5 0.5 0.8 0.8
o1 1.5 1.5 2 2 1.5 1 1.5 1 0.5 1 1.5 1 1 1.5 1.5 2 1.5 1 1.5 2 1.5 2 2 2.5 2.5 2.5 3 3.5
o2 -1 -1 -0.5 -1 -0.5 -1 -1 -1.5 -1 -1 -1 -1.5 -1 -1 -1 -0.5 -1 -1 -0.5 -1 -0.5 -0.5 0 0 0 0.5 0.5 0
o3 0.5 0 1 1.5 0 0.5 -0.5 0.5 -0.5 0 0.5 0 1 0 1 0 1 0.5 0 1 1 0.5 1.5 0.5 1.5 1 2.5 2
o4 -0.5 1 0 0 1 -0.5 0.5 -0.5 0.5 -0.5 -0.5 0.5 -0.5 1 -0.5 1 0 0 1 0 0 1.5 0 1.5 0.5 2 1 2.5
b1 -0.5 0 0 0 -0.5 0 -0.5 -0.5 -0.5 0 0 -0.5 -0.5 0 0 0 -0.5 0 -0.5 -0.5 0 0 -0.5 0 0 0 0 0
b2 1 1 1.5 1.5 1 1 1 1 0.5 1 1 1 0.5 1 1 1 1 1 1 1 1 1 1 1 1 1.5 1.5 1.5
}\raw
\pgfplotstabletranspose[colnames from=s, input colnames to=yr]{\tCf}{\raw}

\begin{document}
\begin{tikzpicture}
\path[use as bounding box] (0,0) rectangle (1126bp,-827bp);
% ---------------- row 1 ----------------
\begin{axis}[pan, at={(96bp,-34bp)}, title={a) Land+Ocean}, ylabel={Pano (mm/day)}]
\drawens{\tAa}{o1,o2,o3,o4,o5}{b1,b2}
\addplot[st] coordinates {(1988,-0.12)(1989,-0.12)(1990,-0.12)(1991,-0.12)(1992,-0.12)(1993,-0.12)(1994,-0.12)(1995,-0.12)(1996,-0.12)(1997,-0.12)(1998,-0.12)(1999,-0.12)(2000,-0.12)(2001,-0.12)(2002,-0.12)(2003,-0.12)(2004,-0.12)(2005,-0.12)};
\node[reg] at (axis description cs:0.117,0.818) {Global Annual};
\end{axis}
\begin{axis}[pan, at={(368bp,-34bp)}, title={b) Ocean}]
\drawens{\tBa}{o1,o2,o3,o4,o5}{b1,b2}
\addplot[st] coordinates {(1987,-0.12)(1989,-0.12)(1992,-0.12)(1996,-0.12)(1997,-0.12)(1998,-0.12)(1999,-0.12)(2000,-0.12)(2001,-0.12)(2002,-0.12)(2003,-0.12)(2004,-0.12)(2005,-0.12)};
\end{axis}
\begin{axis}[pan, at={(640bp,-34bp)}, title={c) Land}]
\drawens{\tCa}{o1,o2,o3,o4,o5}{b1,b2}
\addplot[st] coordinates {(1990,-0.12)(1992,-0.12)(1993,-0.12)(1994,-0.12)(1995,-0.12)(1996,-0.12)(1997,-0.12)(1998,-0.12)(1999,-0.12)(2000,-0.12)(2001,-0.12)(2002,-0.12)(2003,-0.12)(2004,-0.12)(2005,-0.12)};
\end{axis}
\begin{axis}[pan, at={(912bp,-34bp)}, title={d) Land masked by Obs}]
\drawens{\tDa}{o1,o2,o3,o4,o5,o6}{b1,b2}
\obs{\tDa}
\addplot[st] coordinates {(2001,-0.12)(2002,-0.12)(2003,-0.12)(2004,-0.12)(2005,-0.12)};
\end{axis}
% ---------------- row 2 ----------------
\begin{axis}[pan, at={(96bp,-169bp)}, ylabel={Pano (mm/day)}]
\drawens{\tAb}{o1,o2,o3,o4,o5,o6}{b1,b2}
\addplot[st] coordinates {(1976,-0.12)(1977,-0.12)(1988,-0.12)(1989,-0.12)(1990,-0.12)(1991,-0.12)(1992,-0.12)(1993,-0.12)(1994,-0.12)(1995,-0.12)(1996,-0.12)(1997,-0.12)(1998,-0.12)(1999,-0.12)(2000,-0.12)(2001,-0.12)(2002,-0.12)(2003,-0.12)(2004,-0.12)(2005,-0.12)};
\node[reg] at (axis description cs:0.117,0.818) {60N-90N};
\end{axis}
\begin{axis}[pan, at={(368bp,-169bp)}]
\drawens{\tBb}{o1,o2,o3,o4,o5,o6}{b1,b2,b3}
\addplot[st] coordinates {(1976,-0.12)(1989,-0.12)(1992,-0.12)(1995,-0.12)(1996,-0.12)(1997,-0.12)(1998,-0.12)(1999,-0.12)(2000,-0.12)(2001,-0.12)(2002,-0.12)(2003,-0.12)(2004,-0.12)(2005,-0.12)};
\end{axis}
\begin{axis}[pan, at={(640bp,-169bp)}]
\drawens{\tCb}{o1,o2,o3,o4,o5,o6}{b1,b2,b3}
\addplot[st] coordinates {(1984,-0.12)(1989,-0.12)(1990,-0.12)(1991,-0.12)(1992,-0.12)(1993,-0.12)(1994,-0.12)(1995,-0.12)(1996,-0.12)(1997,-0.12)(1998,-0.12)(1999,-0.12)(2000,-0.12)(2001,-0.12)(2002,-0.12)(2003,-0.12)(2004,-0.12)(2005,-0.12)};
\end{axis}
\begin{axis}[pan, at={(912bp,-169bp)}]
\drawens{\tDb}{o1,o2,o3,o4,o5,o6}{b1,b2,b3}
\obs{\tDb}
\addplot[st] coordinates {(1977,-0.12)(1983,-0.12)(1989,-0.12)(1990,-0.12)(1991,-0.12)(1992,-0.12)(1993,-0.12)(1994,-0.12)(1995,-0.12)(1996,-0.12)(1997,-0.12)(1998,-0.12)(1999,-0.12)(2000,-0.12)(2001,-0.12)(2002,-0.12)(2003,-0.12)(2004,-0.12)(2005,-0.12)};
\end{axis}
% ---------------- row 3 ----------------
\begin{axis}[pan, at={(96bp,-301bp)}, ylabel={Pano (mm/day)}]
\drawens{\tAc}{o1,o2,o3,o4,o5}{b1,b2}
\addplot[st] coordinates {(1996,-0.12)(1997,-0.12)(2001,-0.12)(2003,-0.12)(2004,-0.12)(2005,-0.12)};
\node[reg] at (axis description cs:0.117,0.818) {30N-60N};
\end{axis}
\begin{axis}[pan, at={(368bp,-301bp)}]
\drawens{\tBc}{o1,o2,o3,o4,o5}{b1,b2,b3}
\addplot[st] coordinates {(1984,-0.12)(1985,-0.12)(1993,-0.12)(2005,-0.12)};
\end{axis}
\begin{axis}[pan, at={(640bp,-301bp)}]
\drawens{\tCc}{o1,o2,o3,o4,o5}{b1,b2}
\addplot[st] coordinates {(1982,-0.12)(1986,-0.12)(1987,-0.12)(1988,-0.12)(1989,-0.12)(1997,-0.12)(1998,-0.12)};
\end{axis}
\begin{axis}[pan, at={(912bp,-301bp)}]
\drawens{\tDc}{o1,o2,o3,o4,o5}{b1,b2}
\obs{\tDc}
\addplot[st] coordinates {(1990,-0.12)(1991,-0.12)};
\end{axis}
% ---------------- row 4 ----------------
\begin{axis}[pan, at={(96bp,-432bp)}, ylabel={Pano (mm/day)}]
\drawens{\tAd}{o1,o2,o3,o4,o5}{b1,b2}
\addplot[st] coordinates {(1981,-0.12)(1984,-0.12)(1994,-0.12)(2001,-0.12)};
\node[reg] at (axis description cs:0.117,0.818) {30S-30N};
\end{axis}
\begin{axis}[pan, at={(368bp,-432bp)}]
\drawens{\tBd}{o1,o2,o3,o4,o5}{b1,b2}
\addplot[st] coordinates {(1989,-0.12)};
\end{axis}
\begin{axis}[pan, at={(640bp,-432bp)}]
\drawens{\tCd}{o1,o2,o3,o4,o5,o6,o7,o8}{b1,b2,b3}
\addplot[st] coordinates {(1984,-0.12)(1985,-0.12)(1994,-0.12)(2001,-0.12)(2002,-0.12)};
\end{axis}
\begin{axis}[pan, at={(912bp,-432bp)}]
\drawens{\tDd}{o1,o2,o3,o4,o5,o6,o7,o8}{b1,b2,b3}
\obs{\tDd}
\addplot[st] coordinates {(1984,-0.12)(1985,-0.12)(1986,-0.12)(1987,-0.12)(1988,-0.12)(1989,-0.12)(1990,-0.12)(1991,-0.12)(2002,-0.12)};
\end{axis}
% ---------------- row 5 ----------------
\begin{axis}[pan, at={(96bp,-564bp)}, ylabel={Pano (mm/day)}]
\drawens{\tAe}{o1,o2,o3,o4}{b1,b2}
\addplot[st] coordinates {(1988,-0.12)(1989,-0.12)};
\node[reg] at (axis description cs:0.117,0.818) {60S-30S};
\end{axis}
\begin{axis}[pan, at={(368bp,-564bp)}]
\drawens{\tBe}{o1,o2,o3,o4}{b1,b2}
\addplot[st] coordinates {(1986,-0.12)(1988,-0.12)(1989,-0.12)};
\end{axis}
\begin{axis}[pan, at={(640bp,-564bp)}]
\drawens{\tCe}{o1,o2,o3,o4,o5,o6,o7,o8}{b1,b2,b3}
\end{axis}
\begin{axis}[pan, at={(912bp,-564bp)}]
\drawens{\tDe}{o1,o2,o3,o4,o5,o6}{b1,b2}
\obs{\tDe}
\end{axis}
% ---------------- row 6 ----------------
\begin{axis}[pan, at={(96bp,-697bp)}, ylabel={Pano (mm/day)}]
\drawens{\tAf}{o1,o2,o3,o4,o5}{b1,b2}
\addplot[st] coordinates {(1981,-0.12)(1982,-0.12)(1983,-0.12)(1984,-0.12)(1991,-0.12)(1992,-0.12)(1993,-0.12)(1994,-0.12)(1995,-0.12)(1996,-0.12)(1997,-0.12)(1998,-0.12)(1999,-0.12)(2000,-0.12)(2001,-0.12)(2002,-0.12)(2003,-0.12)(2004,-0.12)(2005,-0.12)};
\node[reg] at (axis description cs:0.117,0.818) {90S-60S};
\end{axis}
\begin{axis}[pan, at={(368bp,-697bp)}]
\drawens{\tBf}{o1,o2,o3,o4,o5}{b1,b2,b3}
\addplot[st] coordinates {(1983,-0.12)(1984,-0.12)(1990,-0.12)(1991,-0.12)(1992,-0.12)(1993,-0.12)(1994,-0.12)(1995,-0.12)(1996,-0.12)(1997,-0.12)(1998,-0.12)(1999,-0.12)(2000,-0.12)(2001,-0.12)(2002,-0.12)(2003,-0.12)(2004,-0.12)(2005,-0.12)};
\end{axis}
\begin{axis}[pan, at={(640bp,-697bp)}]
\drawens{\tCf}{o1,o2,o3,o4}{b1,b2}
\end{axis}
% ---------------- legend ----------------
\begin{axis}[at={(912bp,-697bp)}, anchor=north west, scale only axis, width=206bp, height=99bp,
  hide axis, xmin=0, xmax=1, ymin=0, ymax=1,
  legend style={at={(axis description cs:0.311,1)}, anchor=north west, draw=black, line width=0.9bp,
    inner xsep=12bp, inner ysep=17bp, row sep=9bp, column sep=16bp,
    font=\fontsize{16.5}{16.5}\selectfont, nodes={inner sep=0pt}, cells={anchor=west}},
  legend image code/.code={\path (0bp,0bp); \draw[#1] (9bp,5.5bp) -- (49bp,5.5bp);}]
\addlegendimage{black, line width=2.4bp}\addlegendentry{Obs}
\addlegendimage{blue, line width=2.4bp}\addlegendentry{Nat}
\addlegendimage{red, line width=2.4bp}\addlegendentry{All}
\end{axis}
\end{tikzpicture}
\end{document}
